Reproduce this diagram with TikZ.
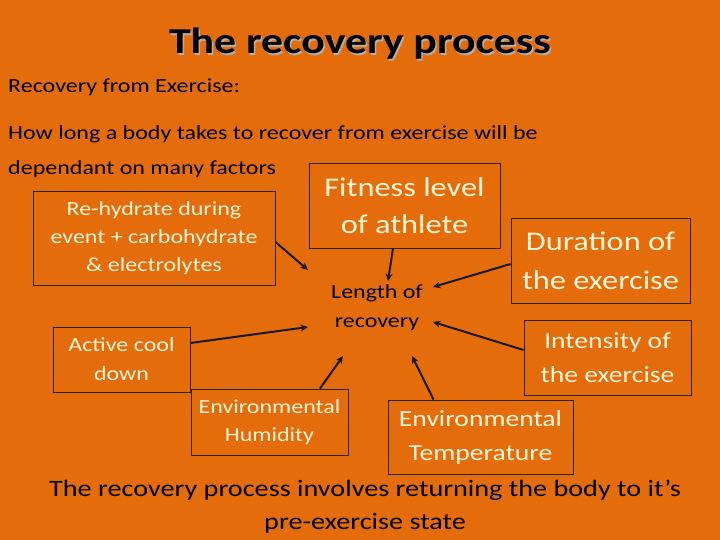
\documentclass[tikz,border=0pt]{standalone}
\usepackage{fontspec}
\setmainfont{Carlito}[FakeStretch=1.2]
\usetikzlibrary{arrows.meta}
\definecolor{bgorange}{HTML}{E46C0A}
\definecolor{cream}{HTML}{FFF4D6}
\definecolor{shadowgray}{HTML}{B0B0B0}
\tikzset{
  fbox/.style={draw=black!85, line width=0.9pt, text=cream, align=center, inner sep=0pt},
  plain/.style={text=black, inner sep=0pt},
  conn/.style={line width=2pt, draw=black!90, -{Stealth[length=7.5pt,width=7pt]}},
}
\begin{document}
\begin{tikzpicture}[x=1pt,y=-1pt]
\fill[bgorange] (0,0) rectangle (720,540);
\useasboundingbox (0,0) rectangle (720,540);
% title
\node[plain, text=shadowgray, anchor=base, font=\bfseries\fontsize{36.5}{40}\selectfont] (titleshadow) at (361.5,55.5) {The recovery process};
\node[plain, anchor=base, font=\bfseries\fontsize{36.5}{40}\selectfont] (title) at (360,54) {The recovery process};
% intro text
\node[plain, anchor=base west, font=\fontsize{20}{24}\selectfont] (intro1) at (8,93) {Recovery from Exercise:};
\node[plain, anchor=base west, font=\fontsize{20}{24}\selectfont] (intro2) at (8,140) {How long a body takes to recover from exercise will be};
\node[plain, anchor=base west, font=\fontsize{20}{24}\selectfont] (intro3) at (8,175) {dependant on many factors};
% boxes
\node[fbox, minimum width=242, minimum height=94, font=\fontsize{20}{28}\selectfont] (rehyd) at (154,238) {Re-hydrate during\\event + carbohydrate\\\& electrolytes};
\node[fbox, minimum width=191, minimum height=85, font=\fontsize{27}{37}\selectfont] (fit) at (404.5,205.5) {Fitness level\\of athlete};
\node[fbox, minimum width=179, minimum height=85, font=\fontsize{27}{39}\selectfont] (dur) at (600.5,260.5) {Duration of\\the exercise};
\node[fbox, minimum width=137, minimum height=65, font=\fontsize{20}{29}\selectfont] (acd) at (121.5,359.5) {Active cool\\down};
\node[fbox, minimum width=167, minimum height=75, font=\fontsize{23}{34}\selectfont] (inten) at (607.5,357.5) {Intensity of\\the exercise};
\node[fbox, minimum width=157, minimum height=66, font=\fontsize{20}{28}\selectfont] (hum) at (269.5,422) {Environmental\\Humidity};
\node[fbox, minimum width=185, minimum height=74, font=\fontsize{23}{34}\selectfont] (temp) at (480.5,437) {Environmental\\Temperature};
% centre
\node[plain, align=center, font=\fontsize{20}{29}\selectfont] (len) at (377,308) {Length of\\recovery};
% arrow end points around the centre
\coordinate (eRe) at (308,270);
\coordinate (eAcd) at (308,327);
\coordinate (eFit) at (388,281);
\coordinate (eDur) at (433,287);
\coordinate (eInt) at (433,322);
\coordinate (eHum) at (343,356);
\coordinate (eTem) at (412,356);
% connectors
\draw[conn] ([yshift=-4pt]rehyd.east) -- (eRe);
\draw[conn] ([yshift=16.5pt]acd.east) -- (eAcd);
\draw[conn] ([xshift=-11.5pt]fit.south) -- (eFit);
\draw[conn] ([yshift=-3.5pt]dur.west) -- (eDur);
\draw[conn] ([yshift=7.5pt]inten.west) -- (eInt);
\draw[conn] ([xshift=50.5pt]hum.north) -- (eHum);
\draw[conn] ([xshift=-47pt]temp.north) -- (eTem);
% bottom text
\node[plain, anchor=base, font=\fontsize{23.5}{28}\selectfont] (bottom1) at (365,496) {The recovery process involves returning the body to it’s};
\node[plain, anchor=base, font=\fontsize{23.5}{28}\selectfont] (bottom2) at (365,529) {pre-exercise state};
\end{tikzpicture}
\end{document}
